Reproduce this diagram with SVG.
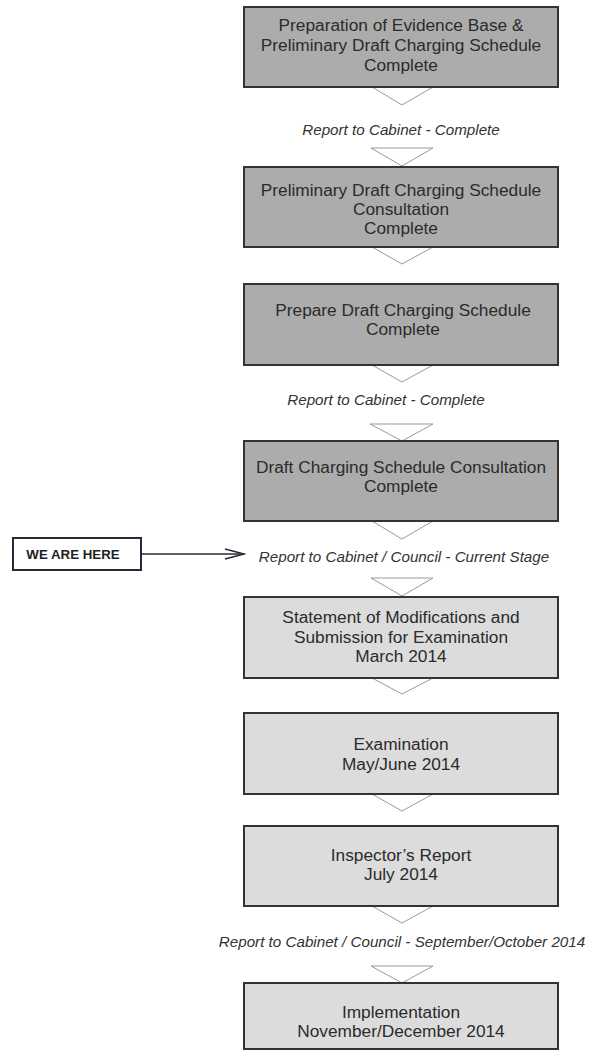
<svg xmlns="http://www.w3.org/2000/svg" width="591" height="1056" viewBox="0 0 591 1056">
<defs>
<style>
.dark{fill:#acacac;stroke:#333;stroke-width:2}
.light{fill:#dcdcdc;stroke:#333;stroke-width:2}
.t{font-family:"Liberation Sans",Arial,sans-serif;font-size:17.3px;fill:#2b2b2b;text-anchor:middle}
.lbl{font-family:"Liberation Sans",Arial,sans-serif;font-size:15.2px;font-style:italic;fill:#333;text-anchor:middle}
.tri{fill:#fff;stroke:#9a9a9a;stroke-width:1}
.here{fill:#fff;stroke:#2a2838;stroke-width:2}
.ht{font-family:"Liberation Sans",Arial,sans-serif;font-size:13.3px;font-weight:bold;fill:#222;text-anchor:middle}
</style>
<marker id="open" markerWidth="22" markerHeight="12" refX="20" refY="6" orient="auto" markerUnits="userSpaceOnUse">
<path d="M1,1 L20,6 L1,11" fill="none" stroke="#2a2838" stroke-width="1.5"/>
</marker>
</defs>
<rect width="591" height="1056" fill="#fff"/>
<g id="connectors">
<polygon class="tri" points="372,87 433,87 402,105"/>
<polygon class="tri" points="371,148 433,148 402,166"/>
<polygon class="tri" points="372,247 433,247 402,264"/>
<polygon class="tri" points="372,365 433,365 402,382"/>
<polygon class="tri" points="370,424 433,424 402,441"/>
<polygon class="tri" points="372,521 433,521 402,539"/>
<polygon class="tri" points="371,578 433,578 402,596"/>
<polygon class="tri" points="372,678 433,678 402,694"/>
<polygon class="tri" points="372,794 433,794 402,811"/>
<polygon class="tri" points="372,906 433,906 402,923"/>
<polygon class="tri" points="371,966 433,966 402,983"/>
<line x1="141" y1="554" x2="244" y2="554" stroke="#2a2838" stroke-width="1.5" marker-end="url(#open)"/>
<text class="lbl" x="401" y="135">Report to Cabinet - Complete</text>
<text class="lbl" x="386" y="405">Report to Cabinet - Complete</text>
<text class="lbl" x="404" y="562">Report to Cabinet / Council - Current Stage</text>
<text class="lbl" x="402" y="947">Report to Cabinet / Council - September/October 2014</text>
</g>
<g id="n1"><rect class="dark" x="244" y="7" width="314" height="80"/>
<text class="t" x="401" y="31">Preparation of Evidence Base &amp;</text>
<text class="t" x="401" y="51">Preliminary Draft Charging Schedule</text>
<text class="t" x="401" y="71">Complete</text></g>
<g id="n2"><rect class="dark" x="244" y="167" width="314" height="80"/>
<text class="t" x="401" y="196">Preliminary Draft Charging Schedule</text>
<text class="t" x="401" y="215">Consultation</text>
<text class="t" x="401" y="234">Complete</text></g>
<g id="n3"><rect class="dark" x="244" y="284" width="314" height="81"/>
<text class="t" x="403" y="316">Prepare Draft Charging Schedule</text>
<text class="t" x="403" y="335">Complete</text></g>
<g id="n4"><rect class="dark" x="244" y="441" width="314" height="80"/>
<text class="t" x="401" y="473">Draft Charging Schedule Consultation</text>
<text class="t" x="401" y="492">Complete</text></g>
<g id="here"><rect class="here" x="13" y="538" width="128" height="32"/>
<text class="ht" x="73" y="559">WE ARE HERE</text></g>
<g id="n5"><rect class="light" x="244" y="597" width="314" height="81"/>
<text class="t" x="401" y="623">Statement of Modifications and</text>
<text class="t" x="401" y="643">Submission for Examination</text>
<text class="t" x="401" y="662">March 2014</text></g>
<g id="n6"><rect class="light" x="244" y="713" width="314" height="81"/>
<text class="t" x="401" y="750">Examination</text>
<text class="t" x="401" y="770">May/June 2014</text></g>
<g id="n7"><rect class="light" x="244" y="826" width="314" height="80"/>
<text class="t" x="401" y="861">Inspector’s Report</text>
<text class="t" x="401" y="880">July 2014</text></g>
<g id="n8"><rect class="light" x="244" y="983" width="314" height="66"/>
<text class="t" x="401" y="1018">Implementation</text>
<text class="t" x="401" y="1037">November/December 2014</text></g>
</svg>
